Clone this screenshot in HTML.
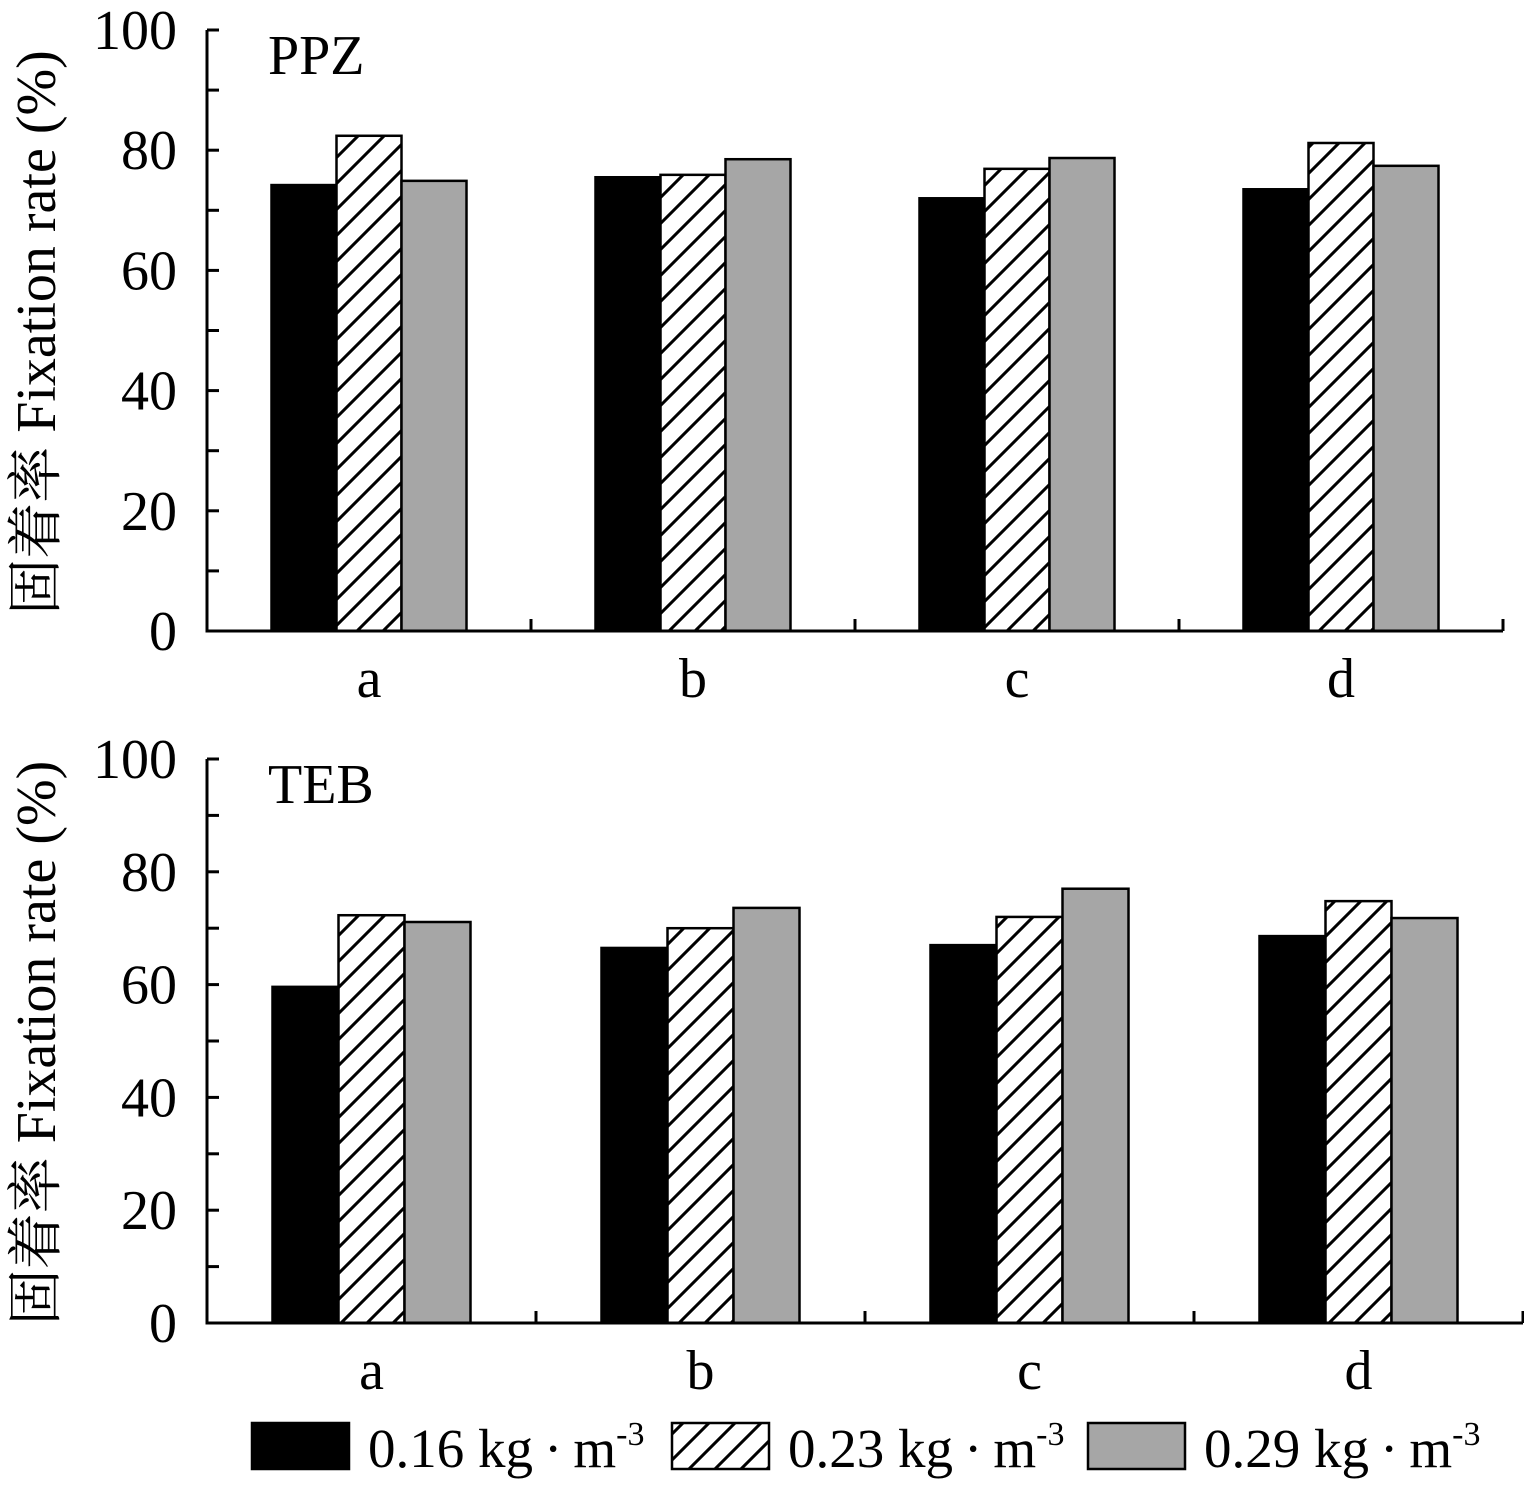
<!DOCTYPE html>
<html><head><meta charset="utf-8"><style>
html,body{margin:0;padding:0;background:#fff;}
svg{display:block;font-family:"Liberation Serif","Noto Serif CJK SC",serif;}
</style></head><body>
<svg id="c" width="1524" height="1486" viewBox="0 0 1524 1486">
<defs>
<pattern id="hatch" patternUnits="userSpaceOnUse" width="26" height="26">
<rect width="26" height="26" fill="#fff"/>
<path d="M-6.5,6.5 L6.5,-6.5 M0,26 L26,0 M19.5,32.5 L32.5,19.5" stroke="#000" stroke-width="3"/>
</pattern>
</defs>
</svg>
<script>
const categories=['a','b','c','d'];
const seriesLabels=['0.16 kg\u2009·\u2009m','0.23 kg\u2009·\u2009m','0.29 kg\u2009·\u2009m'];
const ppz016=[74.2,75.5,72.0,73.5];
const ppz023=[82.4,75.9,76.9,81.2];
const ppz029=[74.9,78.5,78.7,77.4];
const teb016=[59.6,66.5,67.0,68.6];
const teb023=[72.3,70.0,72.0,74.8];
const teb029=[71.1,73.6,77.0,71.8];
const yTicks=[0,20,40,60,80,100];
const fills=['#000','url(#hatch)','#a6a6a6'];
const NS='http://www.w3.org/2000/svg';
const svg=document.getElementById('c');
function mk(tag,attrs,parent){const e=document.createElementNS(NS,tag);for(const k in attrs)e.setAttribute(k,attrs[k]);(parent||svg).appendChild(e);return e;}
function panel(name,title,series,y0,y100,x0,x1,barW,offs){
  const g=mk('g',{});
  
  
  const ys=v=>y0+(y100-y0)*v/100;
  const band=(x1-x0)/categories.length;
  for(let v=0;v<=100;v+=10){
    const t=mk('line',{x1:x0,x2:x0+12,y1:ys(v),y2:ys(v),stroke:'#000','stroke-width':3},g);
    
    
  }
  yTicks.forEach(v=>{
    const t=mk('text',{x:x0-30,y:ys(v)+19,'text-anchor':'end','font-size':56},g);
    t.textContent=v;
    
    
  });
  categories.forEach((c,i)=>{
    const cx=x0+band*(i+0.5)+offs;
    series.forEach((arr,s)=>{
      const bx=cx-1.5*barW+s*barW, by=ys(arr[i]);
      const r=mk('rect',{x:bx,y:by,width:barW,height:y0-by,fill:fills[s],stroke:'#000','stroke-width':2.5},g);
      
      
    });
    const l=mk('text',{x:cx,y:y0+66,'text-anchor':'middle','font-size':56},g);
    l.textContent=c;
    
    
    if(i>0){
      const tk=mk('line',{x1:x0+band*i,x2:x0+band*i,y1:y0,y2:y0-12,stroke:'#000','stroke-width':3},g);
      
      
    }
  });
  const tk=mk('line',{x1:x1,x2:x1,y1:y0,y2:y0-12,stroke:'#000','stroke-width':3},g);
  
  
  const ax=mk('path',{d:`M${x0},${y100} L${x0},${y0} L${x1},${y0}`,fill:'none',stroke:'#000','stroke-width':3},g);
  
  
  const tt=mk('text',{x:268,y:y100+44,'font-size':56},g);
  tt.textContent=title;
  
  
  const yt=mk('text',{x:0,y:0,'font-size':56,'text-anchor':'middle',transform:`translate(55,${(y0+y100)/2+2}) rotate(-90)`},g);
  yt.textContent='固着率 Fixation rate (%)';
  
  
}
panel('ppz','PPZ',[ppz016,ppz023,ppz029],631,30,207,1503,65,0);
panel('teb','TEB',[teb016,teb023,teb029],1323,759,207,1523,66,0);
const legX=[252,672,1088];
seriesLabels.forEach((lab,s)=>{
  const g=mk('g',{});
  
  
  mk('rect',{x:legX[s],y:1423,width:97,height:46,fill:fills[s],stroke:'#000','stroke-width':2.5},g);
  const t=mk('text',{x:legX[s]+116,y:1467,'font-size':55},g);
  t.textContent=lab;
  const sup=mk('tspan',{dy:-22,'font-size':34},t);
  sup.textContent='-3';
});
</script>
</body></html>
